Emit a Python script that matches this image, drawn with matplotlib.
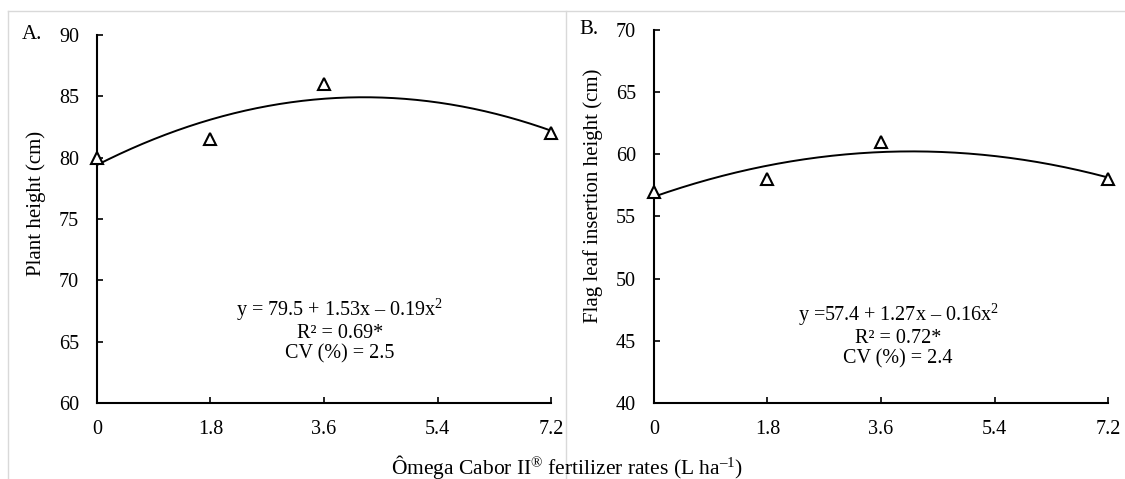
import numpy as np
import matplotlib
matplotlib.use("Agg")
import matplotlib.pyplot as plt
from matplotlib.lines import Line2D

plt.rcParams['font.family'] = ['Liberation Serif', 'DejaVu Serif']
plt.rcParams['mathtext.fontset'] = 'custom'
plt.rcParams['mathtext.rm'] = 'Liberation Serif'
plt.rcParams['mathtext.it'] = 'Liberation Serif:italic'

# data
rates = [0, 1.8, 3.6, 7.2]
plant_height = [80, 81.5, 86, 82]
flag_leaf = [57, 58, 61, 58]
xticks = [0, 1.8, 3.6, 5.4, 7.2]

fig = plt.figure(figsize=(11.25, 4.79), dpi=100)

# light grey frame like the source layout
grey = '#d9d9d9'
fig.add_artist(Line2D([0.0071, 1.0], [0.978, 0.978], color=grey, lw=1))
fig.add_artist(Line2D([0.0071, 0.0071], [0.0, 0.978], color=grey, lw=1))
fig.add_artist(Line2D([0.503, 0.503], [0.0, 0.978], color=grey, lw=1))

axA = fig.add_axes([0.0862, 0.1587, 0.4036, 0.7683])
axB = fig.add_axes([0.5813, 0.1587, 0.4036, 0.7787])


def draw(ax, y, ylim, ystep, ylabel, label_y, letter, eq, r2, cv, tx, ty):
    coef = np.polyfit(rates, y, 2)
    xs = np.linspace(0, 7.2, 200)
    ax.plot(xs, np.polyval(coef, xs), color='black', lw=1.4, zorder=2)
    ax.plot(rates, y, linestyle='none', marker='^', markersize=8,
            markerfacecolor='white', markeredgecolor='black',
            markeredgewidth=1.5, zorder=3, clip_on=False)
    ax.set_xlim(0, 7.2)
    ax.set_ylim(*ylim)
    ax.set_xticks(xticks)
    ax.set_xticklabels(['0', '1.8', '3.6', '5.4', '7.2'])
    ax.set_yticks(np.arange(ylim[0], ylim[1] + 0.1, ystep))
    ax.spines['top'].set_visible(False)
    ax.spines['right'].set_visible(False)
    ax.spines['left'].set_linewidth(1.5)
    ax.spines['bottom'].set_linewidth(1.5)
    ax.tick_params(axis='both', direction='in', length=4, width=1.2,
                   labelsize=14.5)
    ax.tick_params(axis='y', pad=13)
    ax.tick_params(axis='x', pad=12)
    ax.set_ylabel(ylabel, fontsize=15)
    ax.yaxis.set_label_coords(-0.113, label_y)
    ax.text(tx, ty, eq + '\n' + r2 + '\n' + cv, fontsize=14.5,
            ha='center', va='center', linespacing=1.1,
            transform=ax.transData)
    ax.text(-0.165, 1.0, letter, fontsize=15, transform=ax.transAxes,
            ha='left', va='center')


draw(axA, plant_height, (60, 90), 5, 'Plant height (cm)', 0.543, 'A.',
     r'y = 79.5 + 1.53x – 0.19x$\mathregular{^2}$', 'R² = 0.69*',
     'CV (%) = 2.5', 3.85, 65.95)

draw(axB, flag_leaf, (40, 70), 5, 'Flag leaf insertion height (cm)', 0.555, 'B.',
     r'y =57.4 + 1.27x – 0.16x$\mathregular{^2}$', 'R² = 0.72*',
     'CV (%) = 2.4', 3.87, 45.46)

fig.text(0.504, 0.025, 'Ômega Cabor II$\\mathregular{^{®}}$ fertilizer rates (L ha$\\mathregular{^{–1}}$)',
         fontsize=15.5, ha='center', va='center')

fig.savefig('out.png', dpi=100)
